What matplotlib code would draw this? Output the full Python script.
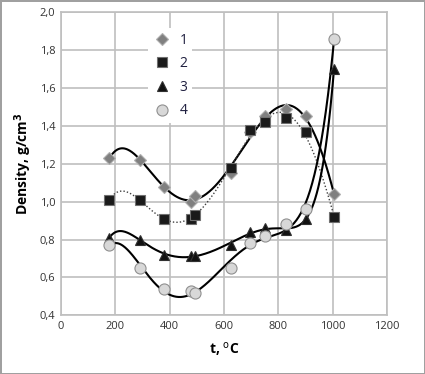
import numpy as np
import matplotlib
matplotlib.use("Agg")
import matplotlib.pyplot as plt

# temperatures, C
t = [178, 290, 380, 480, 495, 625, 695, 752, 830, 900, 1005]

# density, g/cm3
dens1 = [1.23, 1.22, 1.08, 1.00, 1.03, 1.15, 1.37, 1.45, 1.49, 1.45, 1.04]
dens2 = [1.01, 1.01, 0.91, 0.91, 0.93, 1.18, 1.38, 1.42, 1.44, 1.37, 0.92]
dens3 = [0.81, 0.80, 0.72, 0.715, 0.715, 0.77, 0.84, 0.86, 0.85, 0.91, 1.70]
dens4 = [0.77, 0.65, 0.54, 0.53, 0.52, 0.65, 0.78, 0.82, 0.88, 0.96, 1.86]

labels = ["1", "2", "3", "4"]

plt.rcParams['font.family'] = ['Open Sans', 'DejaVu Sans']

fig = plt.figure(figsize=(4.25, 3.74), dpi=100)
fig.patch.set_edgecolor('#a0a0a0')
fig.patch.set_linewidth(2)
ax = fig.add_axes([0.1435, 0.157, 0.7671, 0.81])

x = np.array(t, dtype=float)
xs = np.linspace(x.min(), x.max(), 300)

# polynomial trendlines
def trend(y, deg):
    c = np.polyfit((x - 600) / 400, y, deg)
    return np.polyval(c, (xs - 600) / 400)

ax.plot(xs, trend(dens1, 5), color='black', lw=1.5, zorder=2)
ax.plot(xs, trend(dens2, 5), color='#404040', lw=1.0, ls=(0, (1, 1.5)), zorder=2)
ax.plot(xs, trend(dens3, 7), color='black', lw=1.5, zorder=2)
ax.plot(xs, trend(dens4, 5), color='black', lw=1.5, zorder=2)

ax.plot(t, dens1, 'D', ms=6.5, mfc='#808080', mec='#b0b0b0', mew=0.8, ls='none', label=labels[0], zorder=3)
ax.plot(t, dens2, 's', ms=6.5, mfc='#1a1a1a', mec='#707070', mew=0.8, ls='none', label=labels[1], zorder=3)
ax.plot(t, dens3, '^', ms=7, mfc='#111111', mec='#303030', mew=0.8, ls='none', label=labels[2], zorder=3)
ax.plot(t, dens4, 'o', ms=8, mfc='#d8d8d8', mec='#909090', mew=0.8, ls='none', label=labels[3], zorder=3)

ax.set_xlim(0, 1200)
ax.set_ylim(0.4, 2.0)
ax.set_xticks(np.arange(0, 1201, 200))
ax.set_yticks(np.arange(0.4, 2.01, 0.2))
ax.set_yticklabels([f"{v:.1f}".replace('.', ',') for v in np.arange(0.4, 2.01, 0.2)])
ax.tick_params(length=0, labelsize=8, colors='#333333', pad=4)
ax.grid(True, color='#bfbfbf', lw=1.2)
ax.set_axisbelow(True)
for s in ax.spines.values():
    s.set_color('#bfbfbf')
    s.set_linewidth(1.2)

ax.set_xlabel("t, $^{\\mathrm{o}}$C", fontsize=10, fontweight='bold', labelpad=6)
ax.set_ylabel("Density, g/cm$^{\\mathbf{3}}$", fontsize=10, fontweight='bold', labelpad=4)

leg = ax.legend(loc='upper left', bbox_to_anchor=(0.245, 0.97), frameon=True, framealpha=1,
                edgecolor='none', fontsize=10, labelspacing=0.62, handletextpad=0.5,
                handlelength=1.5, borderpad=0.3)
leg.get_frame().set_linewidth(0)
for txt in leg.get_texts():
    txt.set_color('#1f1f3f')

fig.savefig("out.png", dpi=100)
